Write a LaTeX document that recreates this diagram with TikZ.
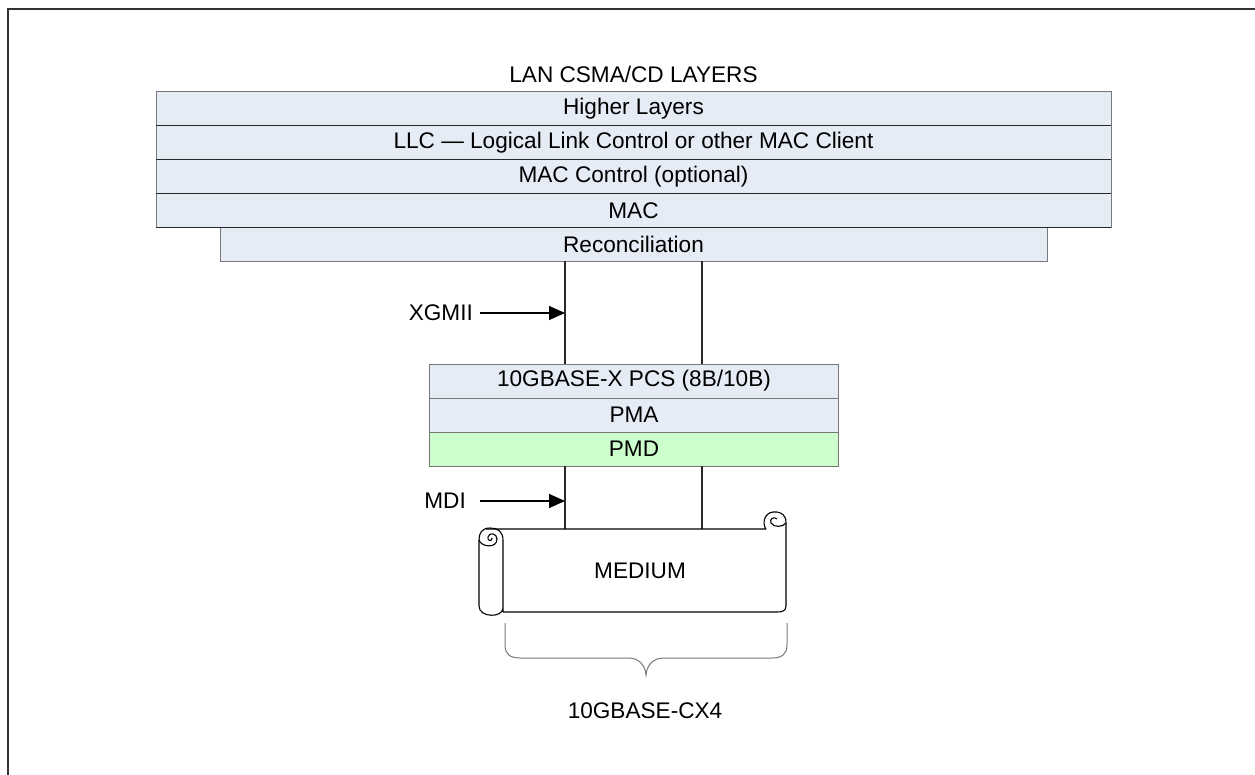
\documentclass[tikz,border=0pt]{standalone}
\usepackage{fontspec}
\setmainfont{Liberation Sans}
\usetikzlibrary{arrows.meta}
\definecolor{layerfill}{RGB}{230,236,246}
\definecolor{pmdfill}{RGB}{204,255,204}
\definecolor{edgegray}{RGB}{120,120,120}
\definecolor{lineblk}{RGB}{40,40,40}
\begin{document}
\begin{tikzpicture}[x=1pt,y=-1pt,
  txt/.style={font=\fontsize{22.6}{27}\selectfont, inner sep=0pt},
  layer/.style={txt, draw=edgegray, line width=1pt, fill=layerfill, minimum height=34pt, inner sep=0pt, outer sep=0pt},
  sep/.style={draw=lineblk, line width=1pt},
  link/.style={draw=lineblk, line width=1.1pt},
  ptr/.style={draw=black, line width=1.3pt, -{Triangle[length=16pt,width=14pt]}},
  scroll/.style={draw=black, line width=1.1pt, line join=round},
  bracestyle/.style={draw=edgegray, line width=1pt}]
\useasboundingbox (0,0) rectangle (1255,775);
\fill[white] (0,0) rectangle (1255,775);
% frame
\draw[line width=2.2pt, black!80] (8,775) -- (8,9) -- (1255,9);
% title
\node[txt] (title) at (633.5,74) {LAN CSMA/CD LAYERS};
% upper stack
\node[layer, minimum width=955pt] (higher) at (633.5,108.5) {Higher Layers};
\node[layer, minimum width=955pt] (llc) at (633.5,142.5) {LLC — Logical Link Control or other MAC Client};
\node[layer, minimum width=955pt] (macc) at (633.5,176.5) {MAC Control (optional)};
\node[layer, minimum width=955pt] (mac) at (633.5,210.5) {MAC};
\node[layer, minimum width=827pt] (recon) at (633.5,244.5) {Reconciliation};
\draw[sep] (higher.south west) -- (higher.south east);
\draw[sep] (llc.south west) -- (llc.south east);
\draw[sep] (macc.south west) -- (macc.south east);
\draw[sep] (mac.south west) -- (mac.south east);
% PHY stack
\node[layer, minimum width=409pt] (pcs) at (634,381) {10GBASE-X PCS (8B/10B)};
\node[layer, minimum width=409pt] (pma) at (634,415) {PMA};
\node[layer, minimum width=409pt, fill=pmdfill] (pmd) at (634,449) {PMD};
% connectors
\coordinate (xa) at (565,0);
\coordinate (xb) at (702,0);
\draw[link] (recon.south -| xa) -- (pcs.north -| xa);
\draw[link] (recon.south -| xb) -- (pcs.north -| xb);
% medium scroll
\coordinate (mtop) at (634,529);
\draw[link] (pmd.south -| xa) -- (mtop -| xa);
\draw[link] (pmd.south -| xb) -- (mtop -| xb);
\node[txt] (medium) at (640,571) {MEDIUM};
% scroll body
\draw[scroll] (486,529) -- (766,529)
  .. controls (762,524) and (764,513) .. (773,512)
  .. controls (782,511) and (787,517) .. (786,523)
  -- (786,606) .. controls (786,611) and (782,612) .. (777,612)
  -- (503,612);
% right curl inner
\draw[scroll] (786,523) .. controls (783,527) and (774,528) .. (771,523)
  .. controls (769,519) and (774,516) .. (777,519);
% left roll
\draw[scroll] (503,612) -- (503,540)
  .. controls (503,531) and (497,528) .. (490,528)
  .. controls (482,528) and (479,533) .. (479,540)
  -- (479,606) .. controls (479,618) and (503,618) .. (503,608);
% left curl inner spiral
\draw[scroll] (479,540) .. controls (481,547) and (497,549) .. (497,539)
  .. controls (497,533) and (489,532) .. (488,537)
  .. controls (487,541) and (492,542) .. (492,538);
% interface arrows
\node[txt, anchor=east] (xgmii) at (473,313) {XGMII};
\coordinate (xgpt) at (565,313);
\draw[ptr] (480,313) -- (xgpt);
\node[txt, anchor=east] (mdi) at (466,501) {MDI};
\coordinate (mdpt) at (565,501);
\draw[ptr] (480,501) -- (mdpt);
% brace
\draw[bracestyle] (505,623) -- (505,645) .. controls (505,654) and (510,658) .. (520,658)
  -- (628,658) .. controls (638,658) and (645,664) .. (646,675)
  .. controls (647,664) and (654,658) .. (664,658)
  -- (772,658) .. controls (782,658) and (787,654) .. (787,645) -- (787,623);
\node[txt] (cx4) at (645,711) {10GBASE-CX4};
\end{tikzpicture}
\end{document}
